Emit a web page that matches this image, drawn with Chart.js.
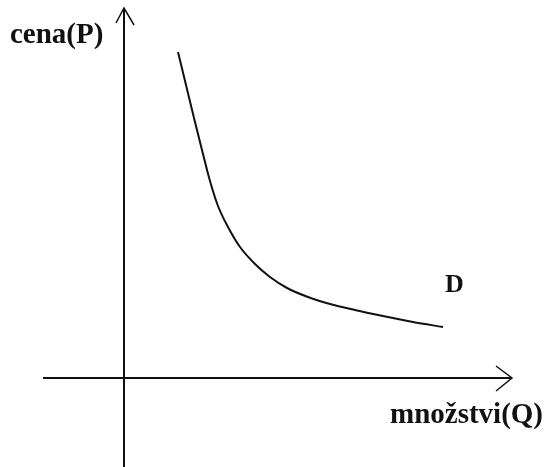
<!DOCTYPE html>
<html lang="cs">

<head>
    <meta charset="UTF-8">
    <title>Poptávka D</title>
    <script src="https://cdn.jsdelivr.net/npm/chart.js@4.4.0/dist/chart.umd.min.js"></script>
    <style>
        body { margin: 0; background: #fff; }
    </style>
</head>

<body>
    <canvas id="chart" width="550" height="467"></canvas>
    <script>
        // demand curve D (origin = where the axes cross)
        const demandQ = [54, 62, 70, 78, 86, 94, 104, 116, 131, 146, 163, 184, 206, 231, 259, 289, 319];
        const demandP = [326, 293, 260, 228, 197, 172, 151, 131, 114, 101, 90, 81, 74, 68, 62, 56, 51];

        // axis extents
        const qAxis = [-81, 388];
        const pAxis = [-89, 370];

        // texts
        const axisTitles = ["cena(P)", "množstvi(Q)"];
        const curveName = "D";

        const points = (xs, ys) => xs.map((x, i) => ({ x: x, y: ys[i] }));

        // arrow heads at the end of each axis
        const qArrow = [{ x: qAxis[1] - 16, y: 12 }, { x: qAxis[1], y: 0 }, { x: qAxis[1] - 16, y: -13 }];
        const pArrow = [{ x: -8, y: pAxis[1] - 15 }, { x: 0, y: pAxis[1] }, { x: 10, y: pAxis[1] - 17 }];

        const labelPlugin = {
            id: "labels",
            afterDatasetsDraw(chart) {
                const ctx = chart.ctx;
                const xs = chart.scales.x, ys = chart.scales.y;
                ctx.save();
                ctx.fillStyle = "#111";
                ctx.textBaseline = "alphabetic";
                ctx.textAlign = "left";
                ctx.font = "bold 29px 'Liberation Serif', 'DejaVu Serif', serif";
                ctx.fillText(axisTitles[0], xs.getPixelForValue(-114), ys.getPixelForValue(335));
                ctx.fillText(axisTitles[1], xs.getPixelForValue(266), ys.getPixelForValue(-45));
                ctx.font = "bold 26px 'Liberation Serif', 'DejaVu Serif', serif";
                ctx.fillText(curveName, xs.getPixelForValue(321), ys.getPixelForValue(86));
                ctx.restore();
            }
        };

        const lineStyle = { borderColor: "#111", borderWidth: 2, pointRadius: 0, fill: false };

        new Chart(document.getElementById("chart").getContext("2d"), {
            type: "line",
            data: {
                datasets: [
                    { ...lineStyle, label: "D", data: points(demandQ, demandP), cubicInterpolationMode: "monotone" },
                    { ...lineStyle, label: "Q", data: points(qAxis, [0, 0]) },
                    { ...lineStyle, label: "P", data: points([0, 0], pAxis) },
                    { ...lineStyle, borderWidth: 1.5, label: "Q arrow", data: qArrow },
                    { ...lineStyle, borderWidth: 1.5, label: "P arrow", data: pArrow }
                ]
            },
            options: {
                responsive: false,
                animation: false,
                layout: { padding: 0 },
                plugins: { legend: { display: false }, tooltip: { enabled: false } },
                scales: {
                    x: { type: "linear", min: -124, max: 426, display: false },
                    y: { type: "linear", min: -89, max: 378, display: false }
                }
            },
            plugins: [labelPlugin]
        });
    </script>
</body>

</html>
